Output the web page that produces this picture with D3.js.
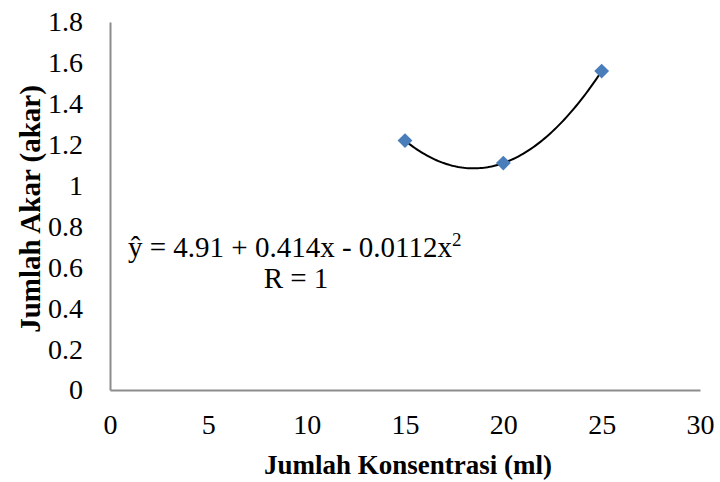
<!DOCTYPE html>
<html>
<head>
<meta charset="utf-8">
<script src="https://cdn.jsdelivr.net/npm/d3@7"></script>
<style>
  body { margin: 0; background: #fff; }
  text { font-family: "Liberation Serif", "Times New Roman", serif; fill: #000; }
</style>
</head>
<body>
<svg id="chart"></svg>
<script>
// data
var konsentrasi = [15, 20, 25];
var jumlahAkar = [1.22, 1.11, 1.56];
var xTicks = [0, 5, 10, 15, 20, 25, 30];
var yTicks = [0, 0.2, 0.4, 0.6, 0.8, 1, 1.2, 1.4, 1.6, 1.8];
var equationText = "ŷ = 4.91 + 0.414x - 0.0112x";
var rText = "R = 1";

var svgWidth = 720, svgHeight = 482;
var plotLeft = 110, plotRight = 700, plotTop = 22, plotBottom = 390;

var svg = d3.select("#chart")
    .attr("width", svgWidth)
    .attr("height", svgHeight);

var x = d3.scaleLinear().domain([0, 30]).range([plotLeft, plotRight]);
var y = d3.scaleLinear().domain([0, 1.8]).range([plotBottom, plotTop]);

// axes (no tick marks, just the lines + labels)
var xAxis = d3.axisBottom(x).tickValues(xTicks).tickSize(0).tickPadding(24)
    .tickFormat(d3.format("d"));
var yAxis = d3.axisLeft(y).tickValues(yTicks).tickSize(0).tickPadding(27)
    .tickFormat(function(d) { return d === 0 || d === 1 ? d : d3.format(".1f")(d); });

var gx = svg.append("g").attr("transform", "translate(0," + plotBottom + ")").call(xAxis);
var gy = svg.append("g").attr("transform", "translate(" + plotLeft + ",0)").call(yAxis);

[gx, gy].forEach(function(g) {
  g.attr("font-family", null).attr("font-size", null);
  g.select(".domain").attr("stroke", "#8c8c8c").attr("stroke-width", 2);
  g.selectAll("text")
    .style("font-family", "'Liberation Serif', serif")
    .style("font-size", "28px")
    .attr("fill", "#000");
});

// quadratic trendline fitted from the points (least squares)
function polyFit(xs, ys) {
  var n = xs.length, S = [0, 0, 0, 0, 0], T = [0, 0, 0];
  for (var i = 0; i < n; i++) {
    for (var k = 0; k < 5; k++) S[k] += Math.pow(xs[i], k);
    for (var k2 = 0; k2 < 3; k2++) T[k2] += ys[i] * Math.pow(xs[i], k2);
  }
  var A = [[S[0], S[1], S[2], T[0]], [S[1], S[2], S[3], T[1]], [S[2], S[3], S[4], T[2]]];
  for (var c = 0; c < 3; c++) {
    for (var r = c + 1; r < 3; r++) {
      var f = A[r][c] / A[c][c];
      for (var j = c; j < 4; j++) A[r][j] -= f * A[c][j];
    }
  }
  var coef = [0, 0, 0];
  for (var r2 = 2; r2 >= 0; r2--) {
    var s = A[r2][3];
    for (var j2 = r2 + 1; j2 < 3; j2++) s -= A[r2][j2] * coef[j2];
    coef[r2] = s / A[r2][r2];
  }
  return coef;
}
var coef = polyFit(konsentrasi, jumlahAkar);
var xMin = d3.min(konsentrasi), xMax = d3.max(konsentrasi);
var curve = d3.range(0, 101).map(function(i) {
  var xv = xMin + (xMax - xMin) * i / 100;
  return [xv, coef[0] + coef[1] * xv + coef[2] * xv * xv];
});

svg.append("path")
    .datum(curve)
    .attr("fill", "none")
    .attr("stroke", "#000")
    .attr("stroke-width", 2)
    .attr("d", d3.line().x(function(d) { return x(d[0]); }).y(function(d) { return y(d[1]); }));

// diamond markers
svg.selectAll(".pt")
    .data(konsentrasi)
    .enter()
    .append("path")
    .attr("class", "pt")
    .attr("d", d3.symbol(d3.symbolSquare, 110))
    .attr("transform", function(d, i) { return "translate(" + x(d) + "," + y(jumlahAkar[i]) + ") rotate(45)"; })
    .attr("fill", "#4a7ebb");

// equation
var eq = svg.append("text")
    .attr("x", 128).attr("y", 257)
    .style("font-size", "29px");
eq.append("tspan").text(equationText);
eq.append("tspan").text("2").attr("dy", -11).style("font-size", "19px");

svg.append("text").text(rText)
    .attr("x", 296).attr("y", 288)
    .attr("text-anchor", "middle")
    .style("font-size", "29px");

// axis titles
svg.append("text").text("Jumlah Konsentrasi (ml)")
    .attr("x", 408).attr("y", 474)
    .attr("text-anchor", "middle")
    .style("font-size", "27px")
    .style("font-weight", "bold");

svg.append("text").text("Jumlah Akar (akar)")
    .attr("text-anchor", "middle")
    .attr("transform", "translate(40,209) rotate(-90)")
    .style("font-size", "29px")
    .style("font-weight", "bold");
</script>
</body>
</html>
